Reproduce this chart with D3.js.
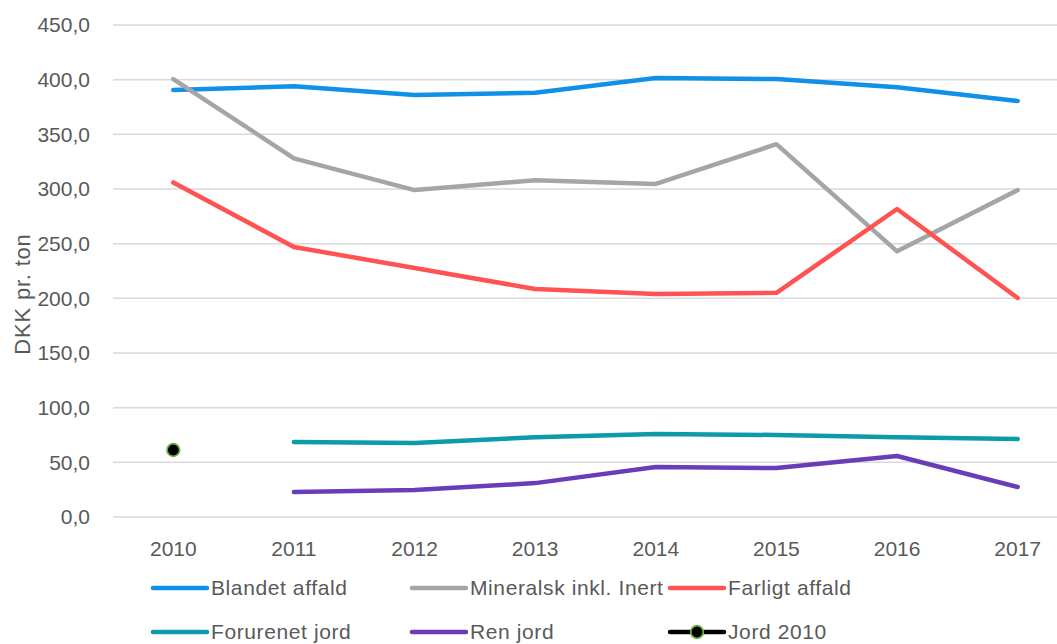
<!DOCTYPE html>
<html><head><meta charset="utf-8">
<script src="https://cdn.jsdelivr.net/npm/d3@7"></script>
<style>body{margin:0;background:#fff;} svg{display:block;font-family:"Liberation Sans",Arial,sans-serif;}</style>
</head><body>
<svg id="c" width="1057" height="644"></svg>
<script>
const years = ["2010","2011","2012","2013","2014","2015","2016","2017"];
const blandet = [390.6, 394, 386, 388, 401.5, 400.6, 393, 380.5];
const mineralsk = [400.6, 328, 299, 308, 304.6, 341, 243, 299];
const farligt = [306, 247, 227.7, 208.5, 204, 205, 281.7, 200.3];
const forurenet = [null, 68.6, 67.7, 73, 76, 75, 73, 71.3];
const renJord = [null, 22.9, 24.7, 31, 45.7, 44.8, 55.8, 27.4];
const jord2010 = [61.3, null, null, null, null, null, null, null];
const yTicks = [0,50,100,150,200,250,300,350,400,450];
const seriesNames = ["Blandet affald","Mineralsk inkl. Inert","Farligt affald","Forurenet jord","Ren jord","Jord 2010"];
const colors = ["#1090E6","#A5A5A5","#FF5252","#0E9AA7","#6A3DB8","#000000"];

const svg = d3.select("#c");
const x = d3.scaleBand().domain(years).range([113, 1078]);
const y = d3.scaleLinear().domain([0,450]).range([517, 25]);
const fmt = d => d3.format(".1f")(d).replace(".", ",");

svg.append("g").selectAll("line").data(yTicks).join("line")
  .attr("x1",113).attr("x2",1057).attr("y1",d=>y(d)).attr("y2",d=>y(d))
  .attr("stroke","#D9D9D9").attr("stroke-width",1.5);

svg.append("g").selectAll("text").data(yTicks).join("text")
  .attr("x",90).attr("y",d=>y(d)).attr("dy","0.35em").attr("text-anchor","end")
  .attr("font-size",21).attr("fill","#595959").text(fmt);

svg.append("g").selectAll("text").data(years).join("text")
  .attr("x",d=>x(d)+x.bandwidth()/2).attr("y",556).attr("text-anchor","middle")
  .attr("font-size",21).attr("fill","#595959").text(d=>d);

svg.append("text").attr("transform","translate(30,294) rotate(-90)")
  .attr("text-anchor","middle").attr("font-size",22).attr("letter-spacing",0.8)
  .attr("fill","#595959").text("DKK pr. ton");

const cx = d => x(d)+x.bandwidth()/2;
const lineGen = d3.line().defined(d=>d.v!=null).x(d=>cx(d.y)).y(d=>y(d.v));
const allSeries = [blandet, mineralsk, farligt, forurenet, renJord];
allSeries.forEach((s,i)=>{
  svg.append("path").datum(years.map((yr,j)=>({y:yr,v:s[j]})))
    .attr("d",lineGen).attr("fill","none").attr("stroke",colors[i])
    .attr("stroke-width",4.5).attr("stroke-linecap","round").attr("stroke-linejoin","round");
});
svg.append("g").selectAll("circle").data(years.map((yr,j)=>({y:yr,v:jord2010[j]})).filter(d=>d.v!=null))
  .join("circle").attr("cx",d=>cx(d.y)).attr("cy",d=>y(d.v)).attr("r",6.3)
  .attr("fill","#000").attr("stroke","#70AD47").attr("stroke-width",1.8);

const legPos = [[153,588],[412,588],[670,588],[153,632],[412,632],[670,632]];
seriesNames.forEach((n,i)=>{
  const [lx,ly] = legPos[i];
  const g = svg.append("g");
  g.append("line").attr("x1",lx).attr("x2",lx+54).attr("y1",ly).attr("y2",ly)
    .attr("stroke",colors[i]).attr("stroke-width",4.5).attr("stroke-linecap","round");
  if(i===5){
    g.append("circle").attr("cx",lx+27).attr("cy",ly).attr("r",6.3).attr("fill","#000")
      .attr("stroke","#70AD47").attr("stroke-width",1.8);
  }
  g.append("text").attr("x",lx+58).attr("y",ly).attr("dy","0.35em")
    .attr("font-size",21).attr("letter-spacing",0.6).attr("fill","#595959").text(n);
});
</script>
</body></html>
